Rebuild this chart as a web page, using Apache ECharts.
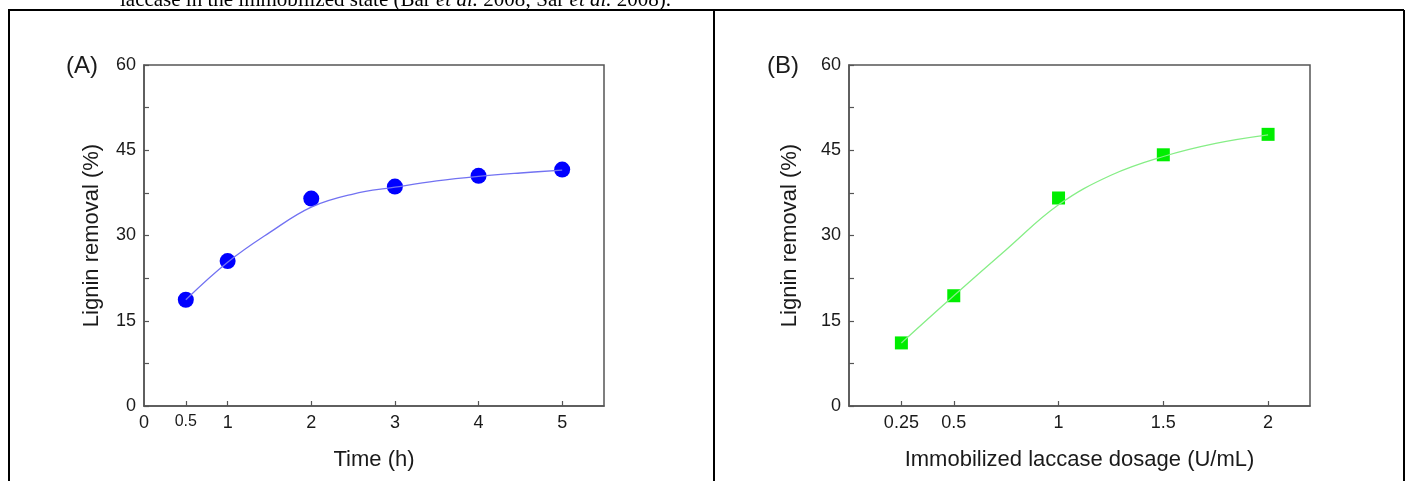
<!DOCTYPE html>
<html>
<head>
<meta charset="utf-8">
<script src="https://cdn.jsdelivr.net/npm/echarts@6/dist/echarts.min.js"></script>
<style>
  html, body { margin: 0; padding: 0; background: #fff; }
  #container { width: 1409px; height: 481px; }
</style>
</head>
<body>
<div id="container"></div>
<script>
// panel A: removal vs time
let timeH = [0.5, 1, 2, 3, 4, 5]
let removalA = [18.7, 25.5, 36.5, 38.6, 40.5, 41.6]
// fitted curve
let fitTimeH = [0.5, 1, 1.5, 2, 2.5, 3, 3.5, 4, 4.5, 5]
let fitA = [18.7, 25.3, 30.5, 35.0, 37.3, 38.5, 39.6, 40.4, 41.0, 41.5]
let timeTicks = [0, 0.5, 1, 2, 3, 4, 5]

// panel B: removal vs dosage
let dosage = [0.25, 0.5, 1, 1.5, 2]
let removalB = [11.1, 19.4, 36.6, 44.2, 47.8]
let fitDosage = [0.25, 0.5, 0.75, 1, 1.25, 1.5, 1.75, 2]
let fitB = [11.1, 19.4, 27.5, 35.4, 40.6, 43.9, 46.2, 47.7]
let dosageTicks = [0.25, 0.5, 1, 1.5, 2]

const font = 'Liberation Sans, Arial, sans-serif'
const frame = '#555'
const ink = '#1a1a1a'

function pairs(xs, ys) {
    return xs.map((x, i) => [x, ys[i]])
}

function yAxis(gridIndex, gap) {
    return {
        type: 'value', gridIndex: gridIndex,
        min: 0, max: 60, interval: 15,
        name: 'Lignin removal (%)', nameLocation: 'middle', nameGap: gap,
        nameTextStyle: { fontFamily: font, fontSize: 22, color: ink },
        axisLine: { show: true, lineStyle: { color: frame, width: 1.5 } },
        axisTick: { show: true, inside: true, length: 5, lineStyle: { color: frame, width: 1.2 } },
        minorTick: { show: true, splitNumber: 2, length: 5, lineStyle: { color: frame, width: 1.2 } },
        axisLabel: { fontFamily: font, fontSize: 18, color: ink, margin: 8 },
        splitLine: { show: false }
    }
}

function xAxis(gridIndex, max, ticks, name) {
    return {
        type: 'value', gridIndex: gridIndex,
        min: 0, max: max,
        name: name, nameLocation: 'middle', nameGap: 43,
        nameTextStyle: { fontFamily: font, fontSize: 22, color: ink },
        axisLine: { show: true, onZero: false, lineStyle: { color: frame, width: 1.5 } },
        axisTick: { show: true, inside: true, length: 5, customValues: ticks.filter(v => v > 0), lineStyle: { color: frame, width: 1.2 } },
        axisLabel: {
            fontFamily: font, fontSize: 18, color: ink, margin: 8,
            customValues: ticks, showMinLabel: true, showMaxLabel: true,
            formatter: v => v === 0.5 && gridIndex === 0 ? '{s|0.5}' : String(v),
            rich: { s: { fontFamily: font, fontSize: 16, color: ink } }
        },
        splitLine: { show: false }
    }
}

let mychart = echarts.init(document.getElementById('container'))

let options = {
    backgroundColor: '#fff',
    animation: false,
    grid: [
        { left: 144, top: 65, width: 460, height: 341, show: true, borderColor: frame, borderWidth: 1.5, backgroundColor: '#fff' },
        { left: 849, top: 65, width: 461, height: 341, show: true, borderColor: frame, borderWidth: 1.5, backgroundColor: '#fff' }
    ],
    xAxis: [
        xAxis(0, 5.5, timeTicks, 'Time (h)'),
        xAxis(1, 2.2, dosageTicks, 'Immobilized laccase dosage (U/mL)')
    ],
    yAxis: [yAxis(0, 41), yAxis(1, 48)],
    graphic: [
        // table lines
        { type: 'line', shape: { x1: 8, y1: 10, x2: 1404, y2: 10 }, style: { stroke: '#000', lineWidth: 2 } },
        { type: 'line', shape: { x1: 9, y1: 10, x2: 9, y2: 481 }, style: { stroke: '#000', lineWidth: 2 } },
        { type: 'line', shape: { x1: 714, y1: 10, x2: 714, y2: 481 }, style: { stroke: '#000', lineWidth: 2 } },
        { type: 'line', shape: { x1: 1404, y1: 10, x2: 1404, y2: 481 }, style: { stroke: '#000', lineWidth: 2 } },
        // cut off caption text above the table
        {
            type: 'text', left: 120, top: -10,
            style: {
                text: '{a|laccase in the immobilized state (Bar }{i|et al.}{a| 2008; Sar }{i|et al.}{a| 2008).}',
                rich: {
                    a: { fontFamily: 'Liberation Serif, serif', fontSize: 21, fill: '#000' },
                    i: { fontFamily: 'Liberation Serif, serif', fontSize: 21, fontStyle: 'italic', fill: '#000' }
                }
            }
        },
        { type: 'text', left: 66, top: 54, style: { text: '(A)', fontFamily: font, fontSize: 24, fill: ink } },
        { type: 'text', left: 767, top: 54, style: { text: '(B)', fontFamily: font, fontSize: 24, fill: ink } }
    ],
    series: [
        {
            type: 'line', xAxisIndex: 0, yAxisIndex: 0,
            data: pairs(fitTimeH, fitA), smooth: 0.4, showSymbol: false,
            lineStyle: { color: '#7272f2', width: 1.3 }
        },
        {
            type: 'scatter', xAxisIndex: 0, yAxisIndex: 0,
            data: pairs(timeH, removalA), symbol: 'circle', symbolSize: 16,
            itemStyle: { color: '#0000ff', opacity: 1 }
        },
        {
            type: 'line', xAxisIndex: 1, yAxisIndex: 1,
            data: pairs(fitDosage, fitB), smooth: 0.4, showSymbol: false,
            lineStyle: { color: '#86ee86', width: 1.3 }
        },
        {
            type: 'scatter', xAxisIndex: 1, yAxisIndex: 1,
            data: pairs(dosage, removalB), symbol: 'rect', symbolSize: 13,
            itemStyle: { color: '#00ee00', opacity: 1 }
        }
    ]
}

mychart.setOption(options)
window.addEventListener('resize', () => { mychart.resize() })
</script>
</body>
</html>
